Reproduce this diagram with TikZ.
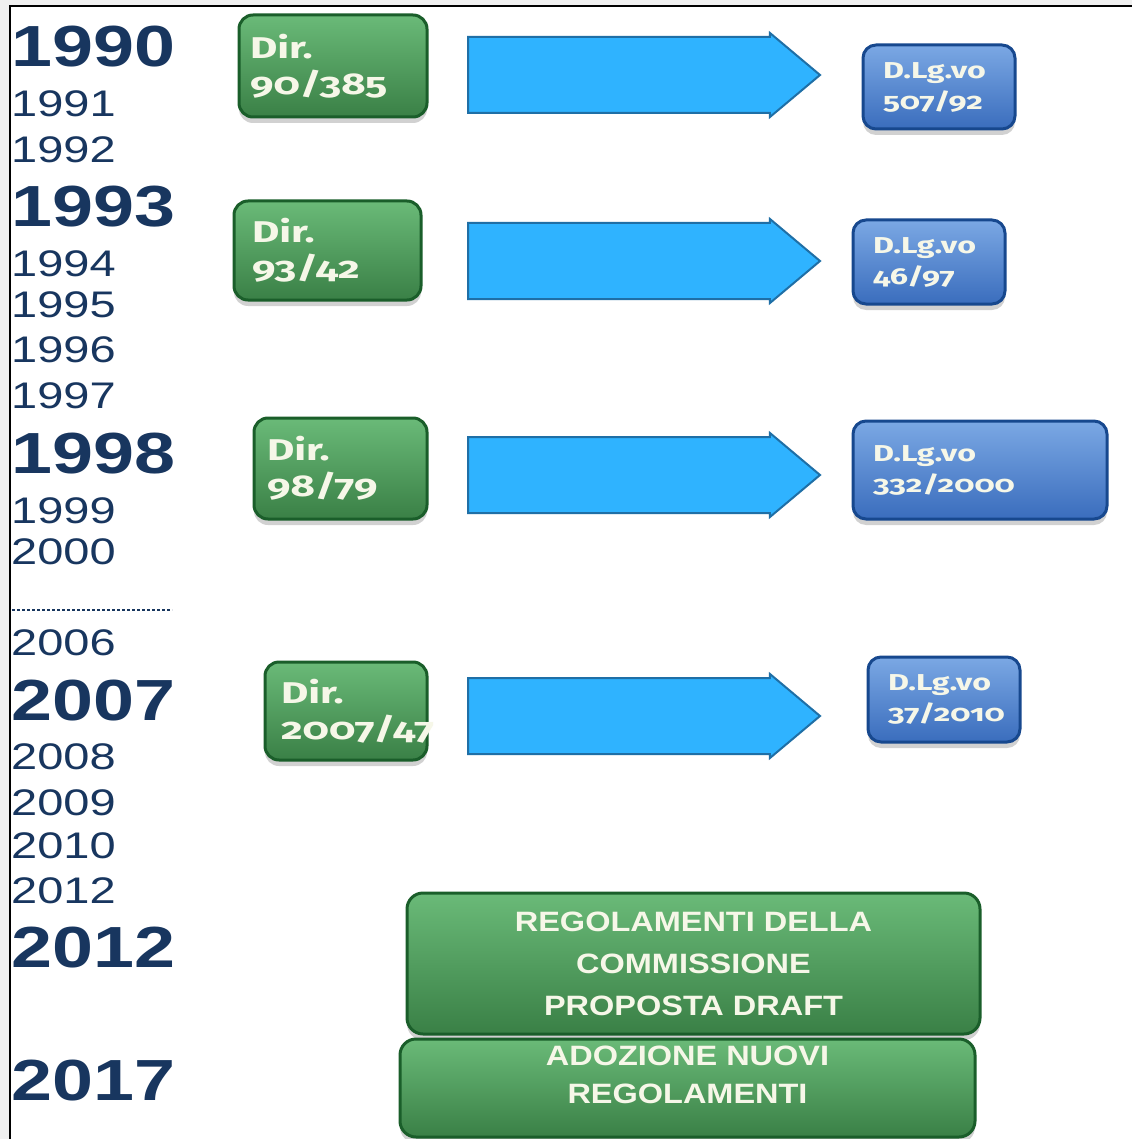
\documentclass[tikz,border=0pt]{standalone}
\usepackage{fontspec}
\usepackage{xcolor}
\usetikzlibrary{arrows,shapes,calc,positioning,shadows}
\newfontfamily\yearfont[FakeStretch=1.27]{Liberation Sans}
\newfontfamily\dirfont[FakeStretch=1.4,Numbers=OldStyle]{Fira Sans}
\newfontfamily\regfont[FakeStretch=1.16]{Liberation Sans}
\definecolor{yearblue}{HTML}{18365F}
\definecolor{bggray}{HTML}{F0F0F0}
\definecolor{boxtext}{HTML}{F6F7E8}
\definecolor{dirborder}{HTML}{1A5E2A}
\definecolor{dirtop}{HTML}{6ABA78}
\definecolor{dirbottom}{HTML}{3A8046}
\definecolor{lgsborder}{HTML}{17488E}
\definecolor{lgstop}{HTML}{7BA8E4}
\definecolor{lgsbottom}{HTML}{3A6DBD}
\definecolor{arrowfill}{HTML}{2FB3FF}
\definecolor{arrowborder}{HTML}{1F6FA6}

\begin{document}
\begin{tikzpicture}[x=1pt,y=-1pt]
			\tikzstyle{every node}=[inner sep=0pt]
			\tikzstyle{yearbig}=[anchor=west, text=yearblue, font=\yearfont\bfseries\fontsize{58}{58}\selectfont]
			\tikzstyle{yearsmall}=[anchor=west, text=yearblue, font=\yearfont\fontsize{37}{37}\selectfont]
			\tikzstyle{softshadow}=[drop shadow={shadow xshift=0pt, shadow yshift=-6pt, opacity=0.18, fill=black}]
			\tikzstyle{dirbox}=[rounded corners=14pt, draw=dirborder, line width=3pt, top color=dirtop, bottom color=dirbottom, softshadow, text=boxtext, font=\dirfont\bfseries\fontsize{30}{36}\selectfont, align=left, inner ysep=0pt]
			\tikzstyle{lgsbox}=[rounded corners=13pt, draw=lgsborder, line width=3pt, top color=lgstop, bottom color=lgsbottom, softshadow, text=boxtext, font=\dirfont\bfseries\fontsize{23}{31}\selectfont, align=left, inner xsep=20pt, inner ysep=0pt]
			\tikzstyle{regbox}=[rounded corners=16pt, draw=dirborder, line width=3pt, top color=dirtop, bottom color=dirbottom, softshadow, text=boxtext, font=\regfont\bfseries\fontsize{28}{42}\selectfont, align=center, inner ysep=0pt]
			\tikzstyle{bigarrow}=[single arrow, anchor=tail, draw=arrowborder, fill=arrowfill, line width=2pt, minimum height=352, minimum width=82, single arrow head extend=4pt, single arrow tip angle=80, inner xsep=0pt, inner ysep=37pt]
			\useasboundingbox (0,0) rectangle (1132,1139);
			\fill [bggray] (0,0) rectangle (1132,1139);
			\fill [white] (10,6) rectangle (1132,1139);
			\draw [line width=2.5pt] (10,1139) -- (10,6) -- (1132,6);
			\node [yearbig] (y1990) at (11,47) {1990};
			\node [yearsmall] (y1991) at (11,103.5) {1991};
			\node [yearsmall] (y1992) at (11,149.5) {1992};
			\node [yearbig] (y1993) at (11,207) {1993};
			\node [yearsmall] (y1994) at (11,263.5) {1994};
			\node [yearsmall] (y1995) at (11,305) {1995};
			\node [yearsmall] (y1996) at (11,350) {1996};
			\node [yearsmall] (y1997) at (11,396) {1997};
			\node [yearbig] (y1998) at (11,454) {1998};
			\node [yearsmall] (y1999) at (11,511) {1999};
			\node [yearsmall] (y2000) at (11,552) {2000};
			\draw [yearblue, line width=2.5pt, dash pattern=on 2.5pt off 2.5pt] (12,610) -- (172,610);
			\node [yearsmall] (y2006) at (11,643) {2006};
			\node [yearbig] (y2007) at (11,701) {2007};
			\node [yearsmall] (y2008) at (11,757) {2008};
			\node [yearsmall] (y2009) at (11,803) {2009};
			\node [yearsmall] (y2010) at (11,845.5) {2010};
			\node [yearsmall] (y2012a) at (11,891) {2012};
			\node [yearbig] (y2012) at (11,948) {2012};
			\node [yearbig] (y2017) at (11,1081) {2017};
			\node [dirbox, minimum width=188, minimum height=102, inner xsep=11pt, text width=166] (dir1) at (333,66) {Dir.\\90/385};
			\node [dirbox, minimum width=187, minimum height=99, inner xsep=18pt, text width=151] (dir2) at (327.5,250.5) {Dir.\\93/42};
			\node [dirbox, minimum width=173, minimum height=101, inner xsep=13pt, text width=147] (dir3) at (340.5,468.5) {Dir.\\98/79};
			\node [dirbox, minimum width=162, minimum height=98, inner xsep=16pt, text width=130] (dir4) at (346,711) {Dir.\\2007/47};
			\node [bigarrow] (arr1) at (467,75) {};
			\node [bigarrow] (arr2) at (467,261) {};
			\node [bigarrow] (arr3) at (467,475) {};
			\node [bigarrow] (arr4) at (467,716) {};
			\node [lgsbox, minimum width=152, minimum height=84, text width=112] (lgs1) at (939,87) {D.Lg.vo\\507/92};
			\node [lgsbox, minimum width=152, minimum height=84, text width=112] (lgs2) at (929,262) {D.Lg.vo\\46/97};
			\node [lgsbox, minimum width=254, minimum height=98, text width=214] (lgs3) at (980,470) {D.Lg.vo\\332/2000};
			\node [lgsbox, minimum width=152, minimum height=85, text width=112] (lgs4) at (944,699.5) {D.Lg.vo\\37/2010};
			\node [regbox, minimum width=573, minimum height=141] (reg1) at (693.5,963.5) {REGOLAMENTI DELLA\\COMMISSIONE\\PROPOSTA DRAFT};
			\node [regbox, minimum width=575, minimum height=98, font=\regfont\bfseries\fontsize{28}{38}\selectfont] (reg2) at (687.5,1088) {ADOZIONE NUOVI\\REGOLAMENTI\\[-12pt]\mbox{}};
		\end{tikzpicture}
\end{document}
